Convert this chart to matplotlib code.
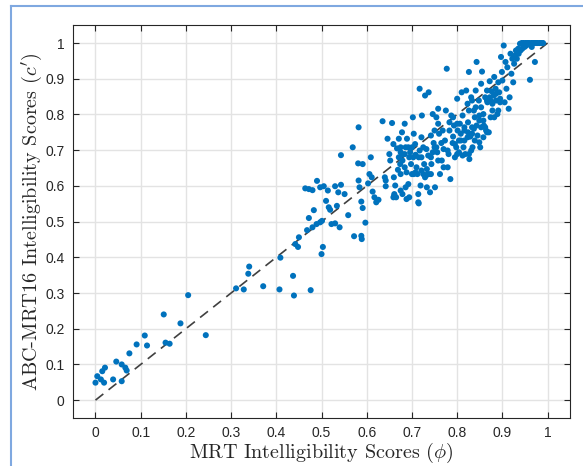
import matplotlib
matplotlib.use("Agg")
import matplotlib.pyplot as plt
from matplotlib.lines import Line2D

# ---- data (MRT score phi, ABC-MRT16 score c') ----
mrt = [
    0.000, 0.004, 0.012, 0.015, 0.021, 0.019, 0.039, 0.046, 0.058, 0.058,
    0.066, 0.069, 0.075, 0.091, 0.109, 0.114, 0.151, 0.155, 0.164, 0.188,
    0.205, 0.244, 0.311, 0.328, 0.338, 0.340, 0.371, 0.407, 0.409, 0.437,
    0.439, 0.476, 0.442, 0.448, 0.450, 0.468, 0.472, 0.483, 0.480, 0.489,
    0.497, 0.501, 0.500, 0.503, 0.464, 0.472, 0.480, 0.490, 0.497, 0.505,
    0.510, 0.514, 0.516, 0.519, 0.522, 0.530, 0.530, 0.534, 0.540, 0.543,
    0.537, 0.543, 0.551, 0.559, 0.569, 0.572, 0.582, 0.581, 0.591, 0.582,
    0.584, 0.588, 0.591, 0.588, 0.589, 0.597, 0.603, 0.609, 0.606, 0.611,
    0.613, 0.617, 0.621, 0.626, 0.635, 0.640, 0.642, 0.646, 0.656, 0.650,
    0.652, 0.659, 0.661,
    0.663, 0.665, 0.660, 0.669, 0.674, 0.671, 0.675, 0.679, 0.667, 0.679,
    0.684, 0.686, 0.689, 0.678, 0.684, 0.675, 0.679, 0.686, 0.692, 0.694,
    0.696, 0.698, 0.700, 0.702, 0.704, 0.707, 0.708, 0.710, 0.712, 0.715,
    0.717, 0.714, 0.714, 0.719, 0.721, 0.722, 0.725, 0.727, 0.729, 0.732,
    0.733, 0.736, 0.737, 0.737, 0.740, 0.742, 0.743, 0.746, 0.748, 0.750,
    0.751, 0.754, 0.756, 0.758, 0.760, 0.762, 0.765, 0.766, 0.768, 0.770,
    0.773, 0.775, 0.777, 0.779, 0.781, 0.783, 0.785, 0.787, 0.790, 0.791,
    0.793, 0.795, 0.798, 0.800, 0.801, 0.804, 0.806, 0.808, 0.810, 0.812,
    0.814, 0.816, 0.818, 0.820, 0.823, 0.824, 0.826, 0.827, 0.829, 0.831,
    0.833, 0.834, 0.837, 0.839, 0.841, 0.843, 0.845, 0.848, 0.849, 0.851,
    0.853, 0.855, 0.858, 0.859, 0.862, 0.864, 0.866, 0.867, 0.870, 0.872,
    0.874, 0.876, 0.878, 0.881, 0.882, 0.885, 0.886, 0.889, 0.891, 0.893,
    0.895, 0.897, 0.899, 0.900, 0.903, 0.905, 0.907, 0.909, 0.911, 0.914,
    0.916, 0.918, 0.920, 0.922, 0.924, 0.926, 0.928, 0.930, 0.932, 0.935,
    0.936, 0.939, 0.940, 0.943, 0.944, 0.947, 0.949, 0.951, 0.953, 0.955,
    0.957, 0.959, 0.961, 0.964, 0.965, 0.968, 0.969, 0.972, 0.973, 0.976,
    0.978, 0.982, 0.986, 0.990,
    0.733, 0.715, 0.661, 0.704, 0.694, 0.688, 0.642, 0.659, 0.671, 0.675,
    0.700, 0.684, 0.692, 0.703, 0.725, 0.750, 0.758, 0.783, 0.800, 0.791,
    0.808, 0.816, 0.824, 0.833, 0.837, 0.843, 0.853, 0.862, 0.858, 0.849,
    0.831, 0.826, 0.812, 0.800, 0.795, 0.804, 0.816, 0.823, 0.839, 0.849,
    0.858, 0.866, 0.874, 0.882, 0.891, 0.895, 0.886, 0.872, 0.866, 0.878,
    0.833, 0.826, 0.841, 0.853, 0.758, 0.770, 0.779, 0.742, 0.746, 0.754,
    0.721, 0.717, 0.708, 0.721, 0.733, 0.742, 0.729, 0.688, 0.675,
]
abc = [
    0.049, 0.067, 0.058, 0.081, 0.091, 0.049, 0.058, 0.108, 0.100, 0.053,
    0.091, 0.083, 0.131, 0.156, 0.181, 0.153, 0.240, 0.161, 0.158, 0.215,
    0.294, 0.182, 0.313, 0.310, 0.354, 0.374, 0.319, 0.310, 0.399, 0.348,
    0.293, 0.308, 0.437, 0.429, 0.456, 0.476, 0.510, 0.532, 0.484, 0.493,
    0.498, 0.502, 0.409, 0.429, 0.593, 0.591, 0.588, 0.614, 0.596, 0.599,
    0.558, 0.587, 0.540, 0.533, 0.493, 0.495, 0.599, 0.544, 0.484, 0.686,
    0.582, 0.603, 0.577, 0.518, 0.708, 0.459, 0.764, 0.663, 0.661, 0.615,
    0.596, 0.556, 0.538, 0.460, 0.451, 0.497, 0.607, 0.680, 0.633, 0.624,
    0.584, 0.568, 0.554, 0.561, 0.781, 0.624, 0.599, 0.732, 0.776, 0.689,
    0.671, 0.568, 0.577,
    0.601, 0.568, 0.624, 0.645, 0.661, 0.680, 0.694, 0.688, 0.705, 0.671,
    0.652, 0.708, 0.732, 0.750, 0.774, 0.587, 0.577, 0.596, 0.605, 0.680,
    0.694, 0.661, 0.633, 0.792, 0.746, 0.717, 0.687, 0.652, 0.633, 0.680,
    0.872, 0.577, 0.554, 0.601, 0.736, 0.797, 0.633, 0.661, 0.853, 0.703,
    0.647, 0.685, 0.862, 0.633, 0.582, 0.741, 0.661, 0.801, 0.720, 0.708,
    0.596, 0.792, 0.694, 0.816, 0.746, 0.633, 0.720, 0.671, 0.755, 0.703,
    0.727, 0.811, 0.928, 0.652, 0.689, 0.755, 0.619, 0.797, 0.720, 0.738,
    0.769, 0.680, 0.708, 0.844, 0.755, 0.694, 0.774, 0.727, 0.862, 0.797,
    0.708, 0.755, 0.689, 0.867, 0.830, 0.778, 0.919, 0.675, 0.738, 0.848,
    0.764, 0.708, 0.811, 0.792, 0.867, 0.947, 0.741, 0.839, 0.783, 0.708,
    0.886, 0.920, 0.801, 0.769, 0.848, 0.755, 0.867, 0.834, 0.750, 0.893,
    0.839, 0.865, 0.811, 0.853, 0.905, 0.872, 0.839, 0.801, 0.890, 0.862,
    0.834, 0.961, 0.919, 0.895, 0.993, 0.834, 0.947, 0.872, 0.932, 0.816,
    0.848, 0.970, 0.914, 0.956, 0.890, 0.942, 0.965, 0.979, 0.956, 0.984,
    0.970, 0.998, 0.979, 1.000, 0.984, 1.000, 0.989, 1.000, 0.993, 1.000,
    1.000, 1.000, 0.897, 1.000, 0.989, 1.000, 1.000, 0.947, 1.000, 1.000,
    1.000, 1.000, 1.000, 1.000,
    0.596, 0.551, 0.573, 0.633, 0.568, 0.563, 0.615, 0.717, 0.732, 0.708,
    0.708, 0.689, 0.708, 0.680, 0.708, 0.755, 0.774, 0.778, 0.774, 0.792,
    0.746, 0.764, 0.750, 0.746, 0.760, 0.769, 0.764, 0.764, 0.783, 0.797,
    0.699, 0.689, 0.685, 0.689, 0.717, 0.727, 0.727, 0.736, 0.727, 0.722,
    0.736, 0.750, 0.792, 0.792, 0.811, 0.844, 0.858, 0.848, 0.839, 0.830,
    0.839, 0.811, 0.820, 0.820, 0.671, 0.652, 0.699, 0.680, 0.694, 0.708,
    0.680, 0.699, 0.638, 0.643, 0.631, 0.633, 0.624, 0.638, 0.633,
]
ref_line = [0, 1]
ticks = [0, 0.1, 0.2, 0.3, 0.4, 0.5, 0.6, 0.7, 0.8, 0.9, 1]
tick_labels = ["0", "0.1", "0.2", "0.3", "0.4", "0.5", "0.6", "0.7", "0.8", "0.9", "1"]

plt.rcParams["mathtext.fontset"] = "cm"

fig = plt.figure(figsize=(5.83, 4.66), dpi=100)
ax = fig.add_axes([0.125, 0.103, 0.853, 0.843])

ax.grid(True, color="#e3e3e3", linewidth=1.0, zorder=0)
ax.set_axisbelow(True)
ax.plot(ref_line, ref_line, linestyle=(0, (6, 4)), color="#404040", linewidth=1.2, zorder=2)
ax.scatter(mrt, abc, s=19, color="#0072BD", edgecolors="none", zorder=3)

ax.set_xlim(-0.05, 1.05)
ax.set_ylim(-0.05, 1.05)
ax.set_xticks(ticks)
ax.set_xticklabels(tick_labels)
ax.set_yticks(ticks)
ax.set_yticklabels(tick_labels)
ax.tick_params(direction="in", length=4, width=0.8, top=True, right=True,
               colors="#262626", labelsize=10, pad=6)
for lab in ax.get_xticklabels() + ax.get_yticklabels():
    lab.set_family("Liberation Sans")
for sp in ax.spines.values():
    sp.set_color("#262626")
    sp.set_linewidth(0.8)

ax.set_xlabel(r"MRT Intelligibility Scores ($\phi$)", family="cmr10", fontsize=14.5, color="#262626")
ax.set_ylabel(r"ABC-MRT16 Intelligibility Scores ($c'$)", family="cmr10", fontsize=14.5, color="#262626")
ax.xaxis.set_label_coords(0.5, -0.058)
ax.yaxis.set_label_coords(-0.058, 0.5)

# light blue frame around the figure
fig.add_artist(Line2D([0.019, 0.019], [0.0, 0.987], transform=fig.transFigure,
                      color="#7fa8e0", linewidth=1.5))
fig.add_artist(Line2D([0.019, 1.0], [0.987, 0.987], transform=fig.transFigure,
                      color="#7fa8e0", linewidth=1.5))

fig.savefig("out.png", dpi=100)
